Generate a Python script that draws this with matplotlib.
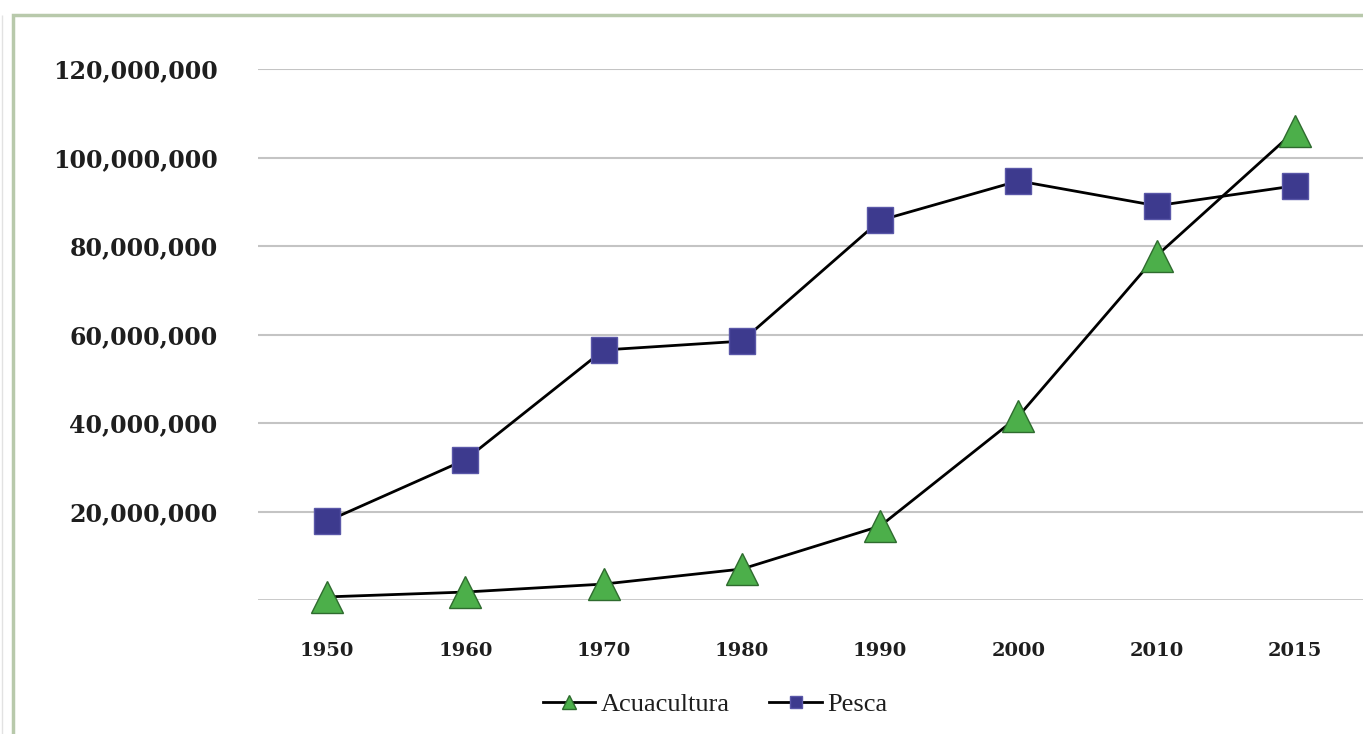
import matplotlib.pyplot as plt
from matplotlib.patches import Rectangle
from matplotlib.ticker import FuncFormatter

years = ["1950", "1960", "1970", "1980", "1990", "2000", "2010", "2015"]
acuacultura = [0.7e6, 1.8e6, 3.6e6, 7.0e6, 16.7e6, 41.5e6, 77.8e6, 106.0e6]
pesca = [17.8e6, 31.7e6, 56.5e6, 58.5e6, 85.8e6, 94.7e6, 89.1e6, 93.6e6]
y_ticks = [20e6, 40e6, 60e6, 80e6, 100e6, 120e6]

W, H = 1363, 734
fig = plt.figure(figsize=(W / 100, H / 100), dpi=100)
fig.patch.set_facecolor("white")

# outer frame
fig.patches.append(Rectangle((13 / W, -0.1), 1.2, 1 - 15 / H + 0.1,
                             transform=fig.transFigure, fill=False,
                             edgecolor="#b8c9ab", linewidth=2.5, zorder=0))
fig.patches.append(Rectangle((2 / W, 0), 0.0, 1 - 15 / H,
                             transform=fig.transFigure, fill=False,
                             edgecolor="#e2e2e2", linewidth=1.0, zorder=0))

ax = fig.add_axes([258 / W, 1 - 600 / H, (1364 - 258) / W, (600 - 69) / H])
ax.set_facecolor("none")

x = list(range(len(years)))
ax.plot(x, acuacultura, color="black", linewidth=2.0, marker="^",
        markersize=23, markerfacecolor="#4caf4a", markeredgecolor="#2e6b2e",
        markeredgewidth=1.0, label="Acuacultura", zorder=3, clip_on=False)
ax.plot(x, pesca, color="black", linewidth=2.0, marker="s",
        markersize=19, markerfacecolor="#3d3a8e", markeredgecolor="#5a57a8",
        markeredgewidth=1.0, label="Pesca", zorder=3, clip_on=False)

ax.set_xlim(-0.5, len(years) - 0.5)
ax.set_ylim(0, 120e6)
ax.set_xticks(x)
ax.set_xticklabels(years)
ax.set_yticks(y_ticks)
ax.yaxis.set_major_formatter(FuncFormatter(lambda v, p: f"{int(v):,}"))

ax.grid(axis="y", color="#c4c4c4", linewidth=1.5)
ax.axhline(0, color="#c4c4c4", linewidth=2.0, zorder=1)
ax.set_axisbelow(True)
for s in ax.spines.values():
    s.set_visible(False)
ax.tick_params(axis="both", length=0)
ax.tick_params(axis="y", pad=29)
ax.tick_params(axis="x", pad=30)

for lbl in ax.get_yticklabels():
    lbl.set_fontfamily("DejaVu Serif")
    lbl.set_fontweight("bold")
    lbl.set_fontsize(17)
    lbl.set_color("#1e1e1e")
for lbl in ax.get_xticklabels():
    lbl.set_fontfamily("DejaVu Serif")
    lbl.set_fontweight("bold")
    lbl.set_fontsize(14)
    lbl.set_color("#1e1e1e")

handles, labels = ax.get_legend_handles_labels()
leg = fig.legend(handles, labels, loc="center", bbox_to_anchor=(715 / W, 1 - 704 / H),
                 ncol=2, frameon=False, handlelength=2.0, columnspacing=1.5,
                 handletextpad=0.2, markerscale=0.45,
                 prop={"family": "Liberation Serif", "size": 19})
for t in leg.get_texts():
    t.set_color("#1e1e1e")

fig.savefig("out.png", dpi=100, facecolor="white")
